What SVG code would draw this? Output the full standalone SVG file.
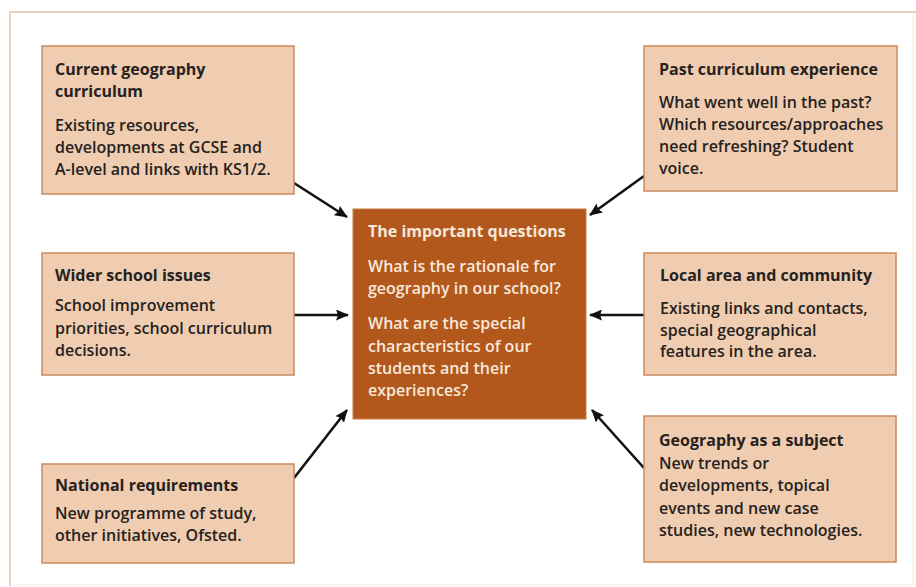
<svg xmlns="http://www.w3.org/2000/svg" width="916" height="587" viewBox="0 0 916 587">
  <defs>
    <marker id="head" viewBox="0 0 13 11" refX="12" refY="5.5" markerWidth="13" markerHeight="11" markerUnits="userSpaceOnUse" orient="auto">
      <path d="M0,0 L13,5.5 L0,11 L2,5.5 Z" fill="#111"/>
    </marker>
    <style>
      .box { fill: #f0cdb1; stroke: #c98a5c; stroke-width: 1.5; }
      .core { fill: #b3581d; stroke: #c77a45; stroke-width: 1; }
      .t { font-family: "Open Sans", "Liberation Sans", sans-serif; font-size: 16px; fill: #262220; }
      .h { font-weight: 700; }
      .b { font-weight: 600; }
      .w { fill: #f7e8da; }
      .link { stroke: #111; stroke-width: 2.6; fill: none; marker-end: url(#head); }
    </style>
  </defs>

  <rect width="916" height="587" fill="#ffffff"/>
  <!-- frame -->
  <path d="M10,586 L10,12 L916,12" fill="none" stroke="#e6d2bd" stroke-width="2"/>
  <path d="M913,12 L913,585 L10,585" fill="none" stroke="#f4ebe2" stroke-width="1"/>

  <g id="connectors">
    <line class="link" x1="294" y1="183" x2="347" y2="217"/>
    <line class="link" x1="644" y1="176" x2="590" y2="215"/>
    <line class="link" x1="294" y1="315" x2="348" y2="315"/>
    <line class="link" x1="644" y1="315" x2="590" y2="315"/>
    <line class="link" x1="294" y1="478" x2="347" y2="410"/>
    <line class="link" x1="644" y1="468" x2="592" y2="410"/>
  </g>

  <g id="current-curriculum">
    <rect class="box" x="42" y="46" width="252" height="148"/>
    <text class="t h" x="55" y="75">Current geography</text>
    <text class="t h" x="55" y="97">curriculum</text>
    <text class="t b" x="55" y="131">Existing resources,</text>
    <text class="t b" x="55" y="153">developments at GCSE and</text>
    <text class="t b" x="55" y="175">A-level and links with KS1/2.</text>
  </g>

  <g id="past-experience">
    <rect class="box" x="644" y="46" width="253" height="145"/>
    <text class="t h" x="659" y="75">Past curriculum experience</text>
    <text class="t b" x="659" y="108">What went well in the past?</text>
    <text class="t b" x="659" y="130">Which resources/approaches</text>
    <text class="t b" x="659" y="152">need refreshing? Student</text>
    <text class="t b" x="659" y="174">voice.</text>
  </g>

  <g id="important-questions">
    <rect class="core" x="353" y="209" width="233" height="210"/>
    <text class="t h w" x="368" y="237">The important questions</text>
    <text class="t b w" x="368" y="272">What is the rationale for</text>
    <text class="t b w" x="368" y="294">geography in our school?</text>
    <text class="t b w" x="368" y="329">What are the special</text>
    <text class="t b w" x="368" y="352">characteristics of our</text>
    <text class="t b w" x="368" y="374">students and their</text>
    <text class="t b w" x="368" y="396">experiences?</text>
  </g>

  <g id="wider-school">
    <rect class="box" x="42" y="253" width="252" height="122"/>
    <text class="t h" x="55" y="281">Wider school issues</text>
    <text class="t b" x="55" y="311">School improvement</text>
    <text class="t b" x="55" y="334">priorities, school curriculum</text>
    <text class="t b" x="55" y="356">decisions.</text>
  </g>

  <g id="local-area">
    <rect class="box" x="644" y="253" width="252" height="122"/>
    <text class="t h" x="660" y="281">Local area and community</text>
    <text class="t b" x="660" y="314">Existing links and contacts,</text>
    <text class="t b" x="660" y="336">special geographical</text>
    <text class="t b" x="660" y="357">features in the area.</text>
  </g>

  <g id="national-requirements">
    <rect class="box" x="42" y="464" width="252" height="99"/>
    <text class="t h" x="55" y="491">National requirements</text>
    <text class="t b" x="55" y="519">New programme of study,</text>
    <text class="t b" x="55" y="541">other initiatives, Ofsted.</text>
  </g>

  <g id="geography-subject">
    <rect class="box" x="644" y="416" width="252" height="146"/>
    <text class="t h" x="659" y="446">Geography as a subject</text>
    <text class="t b" x="659" y="469">New trends or</text>
    <text class="t b" x="659" y="491">developments, topical</text>
    <text class="t b" x="659" y="514">events and new case</text>
    <text class="t b" x="659" y="536">studies, new technologies.</text>
  </g>
</svg>
